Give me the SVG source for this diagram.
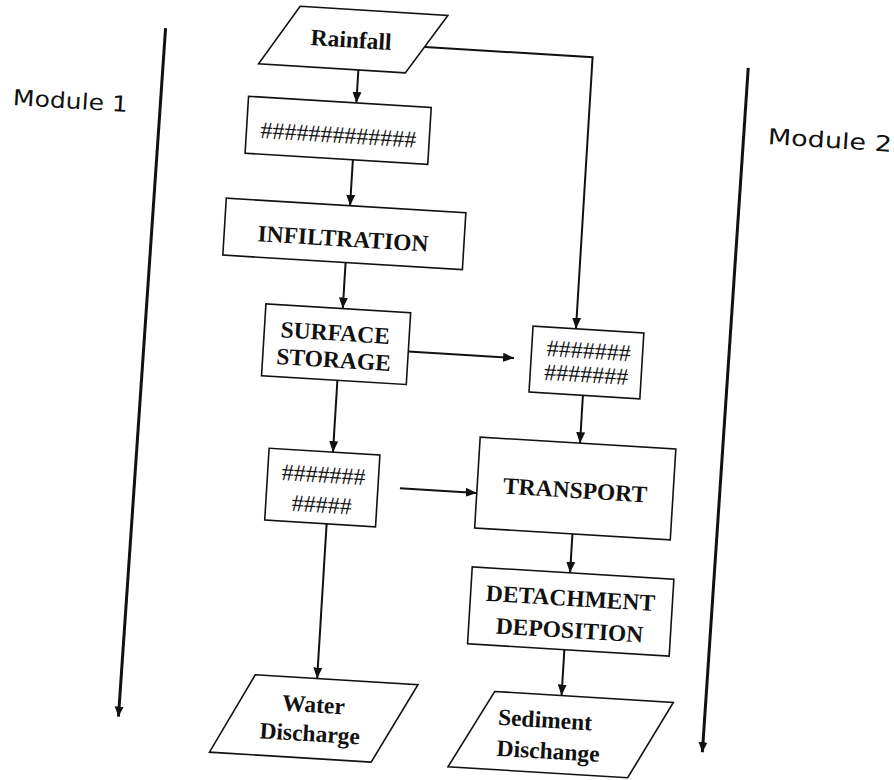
<svg xmlns="http://www.w3.org/2000/svg" width="894" height="780" viewBox="0 0 894 780">
<defs>
<marker id="ah" markerUnits="userSpaceOnUse" markerWidth="12" markerHeight="12" viewBox="0 0 12 12" refX="11" refY="6" orient="auto">
<path d="M0,1.5 L11,6 L0,10.5 Z" fill="#111"/>
</marker>
<marker id="ahm" markerUnits="userSpaceOnUse" markerWidth="12" markerHeight="12" viewBox="0 0 12 12" refX="10" refY="6" orient="auto">
<path d="M0,1.5 L10,6 L0,10.5 Z" fill="#111"/>
</marker>
<style>
.box{fill:#fff;stroke:#111;stroke-width:1.6}
.lbl{font-family:"Liberation Serif","Times New Roman",serif;font-weight:bold;font-size:23.5px;fill:#111;text-anchor:middle}
.hash{font-family:"Liberation Serif","Times New Roman",serif;font-size:24px;fill:#111;text-anchor:middle}
.mod{font-family:"DejaVu Sans","Open Sans",sans-serif;font-size:22px;fill:#111}
.con{fill:none;stroke:#111;stroke-width:2}
.modline{fill:none;stroke:#111;stroke-width:3}
</style>
</defs>
<rect width="894" height="780" fill="#fff"/>
<g transform="rotate(3.5 447 390)">
<g id="connectors">
<line class="con" x1="339" y1="76" x2="339" y2="109" marker-end="url(#ah)"/>
<line class="con" x1="339" y1="166" x2="339" y2="212" marker-end="url(#ah)"/>
<line class="con" x1="338" y1="269" x2="338" y2="315" marker-end="url(#ah)"/>
<line class="con" x1="337" y1="387" x2="337" y2="459" marker-end="url(#ah)"/>
<line class="con" x1="335" y1="531" x2="335" y2="686" marker-end="url(#ah)"/>
<polyline class="con" points="404,49 572,49 572,321" marker-end="url(#ah)"/>
<line class="con" x1="406" y1="354" x2="512" y2="354" marker-end="url(#ah)"/>
<line class="con" x1="583" y1="387" x2="583" y2="435" marker-end="url(#ah)"/>
<line class="con" x1="406" y1="491" x2="483" y2="491" marker-end="url(#ah)"/>
<line class="con" x1="581" y1="526" x2="581" y2="565" marker-end="url(#ah)"/>
<line class="con" x1="580" y1="642" x2="580" y2="688" marker-end="url(#ah)"/>
<line class="modline" x1="144" y1="46" x2="139" y2="736" marker-end="url(#ahm)"/>
<line class="modline" x1="728" y1="50" x2="724" y2="736" marker-end="url(#ahm)"/>
</g>
<g id="rainfall">
<polygon class="box" points="277,16 425,16 386,76 239,76"/>
<text class="lbl" x="330" y="54">Rainfall</text>
</g>
<g id="box1">
<rect class="box" x="231" y="109" width="183" height="57"/>
<text class="hash" x="323" y="150">#############</text>
</g>
<g id="infiltration">
<rect class="box" x="215" y="212" width="240" height="57"/>
<text class="lbl" x="334" y="253">INFILTRATION</text>
</g>
<g id="surface-storage">
<rect class="box" x="261" y="315" width="145" height="72"/>
<text class="lbl" x="332" y="347.5">SURFACE</text>
<text class="lbl" x="332" y="374.5">STORAGE</text>
</g>
<g id="box-right">
<rect class="box" x="529" y="321" width="111" height="66"/>
<text class="hash" x="586" y="350">#######</text>
<text class="hash" x="585" y="374">#######</text>
</g>
<g id="box-left">
<rect class="box" x="273" y="459" width="111" height="72"/>
<text class="hash" x="329" y="490">#######</text>
<text class="hash" x="329" y="520">#####</text>
</g>
<g id="transport">
<rect class="box" x="483" y="435" width="196" height="91"/>
<text class="lbl" x="581" y="490">TRANSPORT</text>
</g>
<g id="detachment">
<rect class="box" x="483" y="565" width="202" height="77"/>
<text class="lbl" x="583" y="598">DETACHMENT</text>
<text class="lbl" x="584" y="630">DEPOSITION</text>
</g>
<g id="water-discharge">
<polygon class="box" points="273,686 436,686 394,766 232,766"/>
<text class="lbl" x="333" y="720">Water</text>
<text class="lbl" x="331" y="749">Discharge</text>
</g>
<g id="sediment-discharge">
<polygon class="box" points="513,688 692,688 651,766 471,766"/>
<text class="lbl" x="565" y="721">Sediment</text>
<text class="lbl" x="570" y="752">Dischange</text>
</g>
<g id="module1">
<text class="mod" x="-4" y="132" textLength="115" lengthAdjust="spacingAndGlyphs">Module 1</text>
</g>
<g id="module2">
<text class="mod" x="752" y="125" textLength="124" lengthAdjust="spacingAndGlyphs">Module 2</text>
</g>
</g>
</svg>
